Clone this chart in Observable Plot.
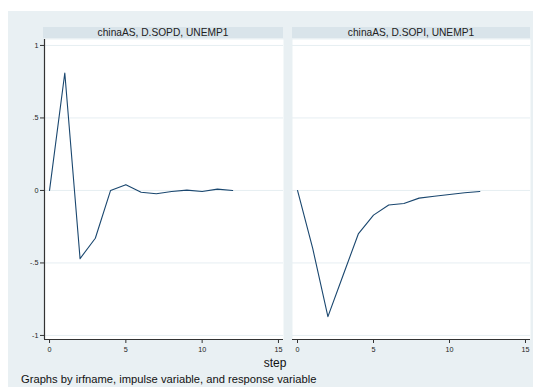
<!DOCTYPE html>
<html>
<head>
<meta charset="utf-8">
<script src="https://cdn.jsdelivr.net/npm/d3@7"></script>
<script src="https://cdn.jsdelivr.net/npm/@observablehq/plot@0.6"></script>
<style>
  html, body { margin: 0; padding: 0; background: #ffffff; }
  body { width: 533px; height: 389px; position: relative; overflow: hidden; font-family: "Liberation Sans", Arial, sans-serif; }
  #bg { position: absolute; left: 8px; top: 11px; width: 525px; height: 376px; background: #e9f0f3; }
  .strip { position: absolute; top: 27px; height: 11px; background: #d9e4ea; font-size: 10.2px; line-height: 11px; text-align: center; color: #222; }
  .panel { position: absolute; top: 39px; }
  #xtitle { position: absolute; top: 356px; left: 225px; width: 100px; text-align: center; font-size: 12px; color: #111; }
  #caption { position: absolute; top: 373px; left: 21px; font-size: 11.2px; color: #111; white-space: nowrap; }
</style>
</head>
<body>
<div id="bg"></div>
<div class="strip" style="left:43px;width:240px;">chinaAS, D.SOPD, UNEMP1</div>
<div class="strip" style="left:292px;width:238px;">chinaAS, D.SOPI, UNEMP1</div>
<div id="left" class="panel" style="left:0px;"></div>
<div id="right" class="panel" style="left:292px;"></div>
<div id="xtitle">step</div>
<div id="caption">Graphs by irfname, impulse variable, and response variable</div>
<script>
// Data
const steps = [0, 1, 2, 3, 4, 5, 6, 7, 8, 9, 10, 11, 12];
const sopd = [0, 0.81, -0.47, -0.33, 0, 0.04, -0.012, -0.023, -0.007, 0.002, -0.007, 0.009, 0];
const sopi = [0, -0.40, -0.87, -0.585, -0.30, -0.17, -0.10, -0.09, -0.053, -0.04, -0.028, -0.016, -0.007];
const xTicks = [0, 5, 10, 15];
const yTicks = [-1, -0.5, 0, 0.5, 1];
const yTickLabels = ["-1", "-.5", "0", ".5", "1"];

const xDomain = [-0.33, 15.33];
const yDomain = [-1.028, 1.041];
const lineColor = "#1a476f";
const gridColor = "#e6eef2";
const axisColor = "#333333";

function panel(values, withY, width, marginLeft, marginRight) {
  const data = steps.map((s, i) => ({step: s, v: values[i]}));
  const marks = [
    Plot.frame({fill: "white", stroke: null}),
    Plot.gridY(yTicks, {stroke: gridColor, strokeOpacity: 1, strokeWidth: 1}),
    Plot.line(data, {x: "step", y: "v", stroke: lineColor, strokeWidth: 1.1}),
    Plot.ruleY([yDomain[0]], {stroke: axisColor, strokeWidth: 1.2}),
    Plot.axisX(xTicks, {tickSize: 4, tickPadding: 3, label: null, stroke: axisColor, fill: "#222"})
  ];
  if (withY) {
    marks.push(Plot.ruleX([xDomain[0]], {stroke: axisColor, strokeWidth: 1.2}));
    marks.push(Plot.axisY(yTicks, {
      tickSize: 4, tickPadding: 2, label: null, stroke: axisColor, fill: "#222",
      tickFormat: d => yTickLabels[yTicks.indexOf(d)]
    }));
  }
  return Plot.plot({
    width, height: 325,
    marginLeft, marginRight, marginTop: 0, marginBottom: 25,
    style: {background: "transparent", fontFamily: "Liberation Sans, Arial, sans-serif", fontSize: "7.2px", overflow: "visible"},
    x: {domain: xDomain},
    y: {domain: yDomain, axis: withY ? undefined : null},
    marks
  });
}

document.getElementById("left").appendChild(panel(sopd, true, 283, 44, 0));
document.getElementById("right").appendChild(panel(sopi, false, 238, 0, 0));
</script>
</body>
</html>
